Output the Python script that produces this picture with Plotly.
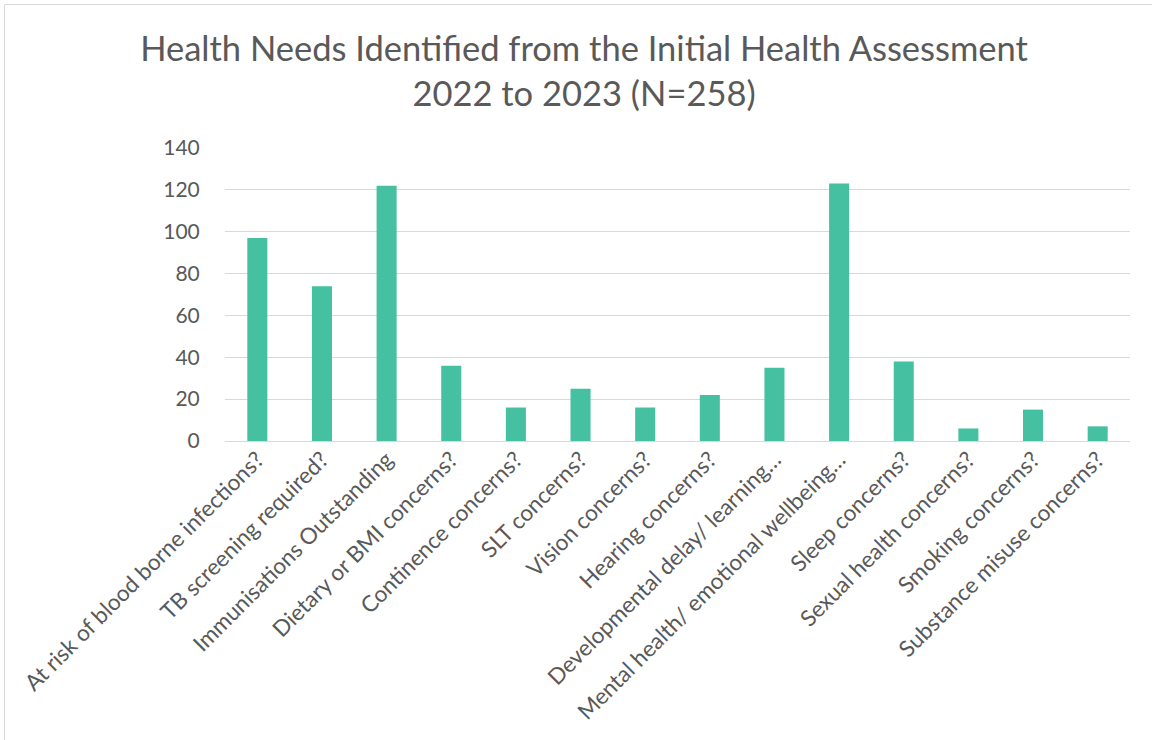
import plotly.graph_objects as go

categories = [
    "At risk of blood borne infections?",
    "TB screening required?",
    "Immunisations Outstanding",
    "Dietary or BMI concerns?",
    "Continence concerns?",
    "SLT concerns?",
    "Vision concerns?",
    "Hearing concerns?",
    "Developmental delay/ learning…",
    "Mental health/ emotional wellbeing…",
    "Sleep concerns?",
    "Sexual health concerns?",
    "Smoking concerns?",
    "Substance misuse concerns?",
]
counts = [97, 74, 122, 36, 16, 25, 16, 22, 35, 123, 38, 6, 15, 7]
y_ticks = [0, 20, 40, 60, 80, 100, 120, 140]

FONT = "Lato"
TEXT = "#595959"
GRID = "#d9d9d9"

fig = go.Figure(
    go.Bar(
        x=categories,
        y=counts,
        marker=dict(color="#45C1A1", line=dict(width=0)),
    )
)

W, H = 1152, 740
L, R, T, B = 225, 22, 148, 299
pw, ph = W - L - R, H - T - B

def px_to_paper_x(px):
    return (px - L) / pw

def px_to_paper_y(py):
    return (H - B - py) / ph

fig.update_layout(
    width=W,
    height=H,
    margin=dict(l=L, r=R, t=T, b=B),
    paper_bgcolor="white",
    plot_bgcolor="white",
    bargap=0.69,
    showlegend=False,
    font=dict(family=FONT, color=TEXT),
    title=dict(
        text="Health Needs Identified from the Initial Health Assessment<br>2022 to 2023 (N=258)",
        x=0.507,
        xanchor="center",
        y=1 - 61 / H,
        yanchor="middle",
        font=dict(family=FONT, size=34.5, color=TEXT),
    ),
    xaxis=dict(
        tickangle=-45,
        tickfont=dict(family=FONT, size=22.5, color=TEXT),
        showgrid=False,
        showline=False,
        ticks="",
    ),
    yaxis=dict(
        range=[0, 140],
        tickvals=y_ticks,
        tickfont=dict(family=FONT, size=21, color=TEXT),
        showgrid=True,
        gridcolor=GRID,
        gridwidth=1,
        zeroline=True,
        zerolinecolor=GRID,
        zerolinewidth=1,
        showline=False,
        ticks="outside",
        ticklen=20,
        tickcolor="rgba(0,0,0,0)",
    ),
    shapes=[
        dict(
            type="rect",
            xref="paper",
            yref="paper",
            x0=px_to_paper_x(4.5),
            x1=px_to_paper_x(1160),
            y0=px_to_paper_y(745),
            y1=px_to_paper_y(4.5),
            line=dict(color=GRID, width=1),
            fillcolor="rgba(0,0,0,0)",
            layer="below",
        )
    ],
)

fig.write_html("out.html")
